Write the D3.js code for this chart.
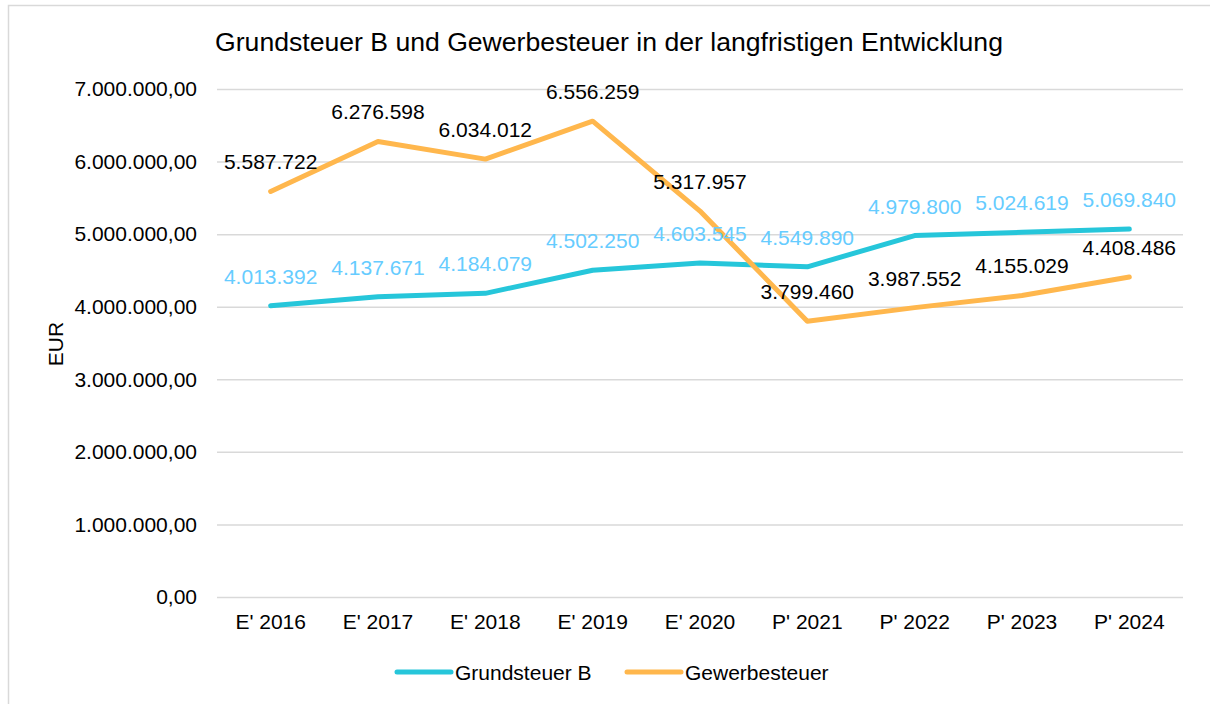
<!DOCTYPE html>
<html>
<head>
<meta charset="utf-8">
<script src="https://cdn.jsdelivr.net/npm/d3@7"></script>
<style>
  body { margin: 0; background: #fff; }
  svg { font-family: "Liberation Sans", Arial, sans-serif; }
</style>
</head>
<body>
<svg id="chart" width="1210" height="704"></svg>
<script>
const categories = ["E' 2016", "E' 2017", "E' 2018", "E' 2019", "E' 2020", "P' 2021", "P' 2022", "P' 2023", "P' 2024"];
const grundsteuer = [4013392, 4137671, 4184079, 4502250, 4603545, 4549890, 4979800, 5024619, 5069840];
const gewerbesteuer = [5587722, 6276598, 6034012, 6556259, 5317957, 3799460, 3987552, 4155029, 4408486];
const yTicks = [0, 1000000, 2000000, 3000000, 4000000, 5000000, 6000000, 7000000];

const series = [
    { name: 'Grundsteuer B', values: grundsteuer, color: '#26C6DA', labelColor: '#66CCFF' },
    { name: 'Gewerbesteuer', values: gewerbesteuer, color: '#FFB74D', labelColor: '#000' }
];

const svg = d3.select('#chart');

// outer frame (right and bottom edges run off the picture)
svg.append('rect')
    .attr('x', 8.5).attr('y', 5.5)
    .attr('width', 1300).attr('height', 800)
    .attr('fill', 'none')
    .attr('stroke', '#d9d9d9')
    .attr('stroke-width', 1.5);

const margin = { top: 89, left: 217, right: 1183, bottom: 597 };

const x = d3.scaleBand()
    .domain(categories)
    .range([margin.left, margin.right]);

const y = d3.scaleLinear()
    .domain([0, 7000000])
    .range([margin.bottom, margin.top]);

const fmtTick = v => d3.format(',.2f')(v).replace(/,/g, 'X').replace('.', ',').replace(/X/g, '.');
const fmtLabel = v => d3.format(',')(v).replace(/,/g, '.');

// gridlines + y tick labels
const yAxis = svg.append('g')
    .attr('transform', `translate(${margin.left},0)`)
    .call(d3.axisLeft(y).tickValues(yTicks).tickFormat(fmtTick)
        .tickSize(-(margin.right - margin.left)).tickPadding(20));
yAxis.select('.domain').remove();
yAxis.selectAll('.tick line').attr('stroke', '#d9d9d9').attr('stroke-width', 1.5);
yAxis.selectAll('.tick text').attr('font-size', 21).attr('fill', '#000')
    .attr('font-family', '"Liberation Sans", Arial, sans-serif');

// x axis labels
const xAxis = svg.append('g')
    .attr('transform', `translate(0,${margin.bottom})`)
    .call(d3.axisBottom(x).tickSize(0).tickPadding(17));
xAxis.select('.domain').remove();
xAxis.selectAll('.tick text').attr('font-size', 21).attr('fill', '#000')
    .attr('font-family', '"Liberation Sans", Arial, sans-serif');

const cx = c => x(c) + x.bandwidth() / 2;

const line = d3.line()
    .x((d, i) => cx(categories[i]))
    .y(d => y(d));

series.forEach(s => {
    svg.append('path')
        .datum(s.values)
        .attr('d', line)
        .attr('fill', 'none')
        .attr('stroke', s.color)
        .attr('stroke-width', 5)
        .attr('stroke-linejoin', 'round')
        .attr('stroke-linecap', 'round');
});

series.forEach(s => {
    svg.append('g').selectAll('text')
        .data(s.values)
        .enter()
        .append('text')
        .attr('x', (d, i) => cx(categories[i]))
        .attr('y', d => y(d) - 22)
        .attr('text-anchor', 'middle')
        .attr('font-size', 21)
        .attr('fill', s.labelColor)
        .text(fmtLabel);
});

// title
svg.append('text')
    .attr('x', 609).attr('y', 51)
    .attr('text-anchor', 'middle')
    .attr('font-size', 26.6)
    .text('Grundsteuer B und Gewerbesteuer in der langfristigen Entwicklung');

// y axis title
svg.append('text')
    .attr('transform', 'translate(63,344) rotate(-90)')
    .attr('text-anchor', 'middle')
    .attr('font-size', 21)
    .text('EUR');

// legend
const legendX = [397, 627];
series.forEach((s, i) => {
    const g = svg.append('g').attr('transform', `translate(${legendX[i]},672)`);
    g.append('line')
        .attr('x1', 0).attr('x2', 54)
        .attr('stroke', s.color).attr('stroke-width', 5)
        .attr('stroke-linecap', 'round');
    g.append('text')
        .attr('x', 58).attr('y', 8)
        .attr('font-size', 21)
        .text(s.name);
});
</script>
</body>
</html>
